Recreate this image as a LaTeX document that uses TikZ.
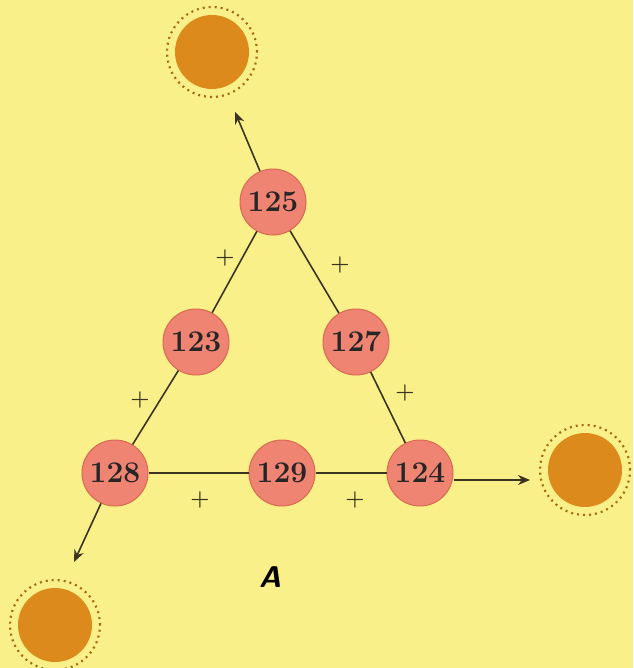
\documentclass[tikz,border=0pt]{standalone}
\usetikzlibrary{arrows.meta}
\definecolor{bgyel}{HTML}{FAF08A}
\definecolor{nodefill}{HTML}{EF8472}
\definecolor{nodeedge}{HTML}{D86A50}
\definecolor{sunfill}{HTML}{DC8A1C}
\definecolor{sunring}{HTML}{A86C10}
\definecolor{linec}{HTML}{3A3420}
\tikzset{
  num/.style={circle, fill=nodefill, draw=nodeedge, line width=1pt, minimum size=66pt, inner sep=0pt, font=\fontsize{30}{30}\selectfont\bfseries, text=black!85},
  sun/.style={circle, fill=sunfill, minimum size=74pt, inner sep=0pt},
  ring/.style={circle, draw=sunring, line width=2.2pt, dash pattern=on 2pt off 4pt, minimum size=90pt, inner sep=0pt},
  edge/.style={draw=linec, line width=1.6pt},
  arr/.style={edge, -{Stealth[length=12pt,width=10pt]}},
  plus/.style={font=\fontsize{22}{22}\selectfont\bfseries, text=linec}
}
\begin{document}
\begin{tikzpicture}[x=1pt,y=-1pt]
\fill[bgyel] (0,0) rectangle (633,668);
\useasboundingbox (0,0) rectangle (633,668);
% suns
\node[ring] (r1) at (212,52) {};
\node[sun] (s1) at (212,52) {};
\node[ring] (r2) at (585,470) {};
\node[sun] (s2) at (585,470) {};
\node[ring] (r3) at (55,625) {};
\node[sun] (s3) at (55,625) {};
% numbers
\node[num] (n125) at (273,202) {125};
\node[num] (n123) at (196,342) {123};
\node[num] (n127) at (356,342) {127};
\node[num] (n128) at (115,473) {128};
\node[num] (n129) at (282,473) {129};
\node[num] (n124) at (420,473) {124};
% edges
\path[edge] (n125) -- (n123);
\path[edge] (n125) -- (n127);
\path[edge] (n123) -- (n128);
\path[edge] (n127) -- (n124);
\path[edge] (n128) -- (n129);
\path[edge] (n129) -- (n124);
% arrows
\coordinate (a1) at (235,112);
\coordinate (a2) at (74,562);
\coordinate (a3) at (530,480);
\path[arr] (n125) -- (a1);
\path[arr] (n128) -- (a2);
\path[arr] (n124.east |- a3) -- (a3);
% plus signs
\node[plus] (p1) at (225,258) {+};
\node[plus] (p2) at (340,265) {+};
\node[plus] (p3) at (140,400) {+};
\node[plus] (p4) at (405,393) {+};
\node[plus] (p5) at (200,500) {+};
\node[plus] (p6) at (355,500) {+};
% label
\node[font=\fontsize{30}{30}\selectfont\sffamily\bfseries\itshape] (lab) at (270,577) {A};
\end{tikzpicture}
\end{document}
